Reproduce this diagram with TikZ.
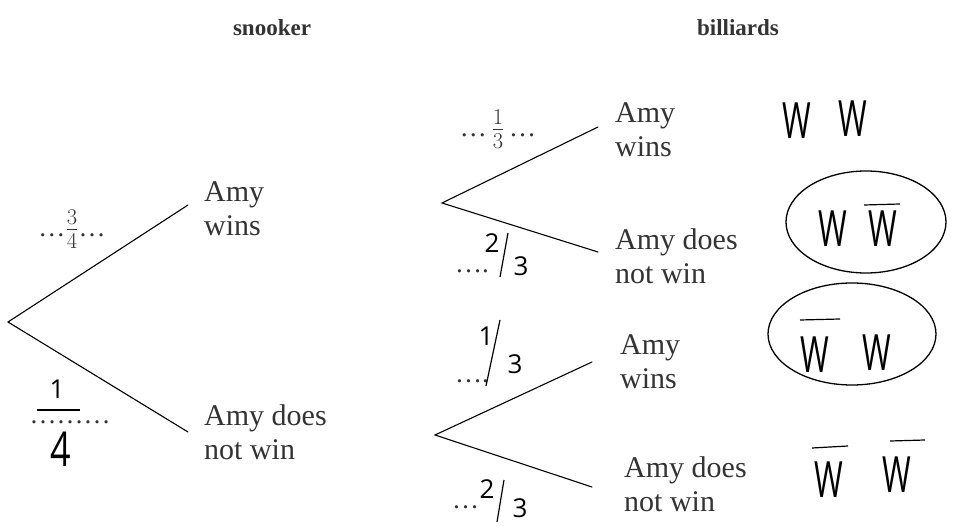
\documentclass[tikz,border=0pt]{standalone}
\usepackage{fontspec}
\setmainfont{Liberation Serif}
\newfontfamily\hand{Open Sans}
\begin{document}
\begin{tikzpicture}[x=1pt,y=-1pt,
  txt/.style={font=\fontsize{30}{34}\selectfont, align=left, anchor=west, inner sep=0pt, text=black!80},
  ttl/.style={font=\fontsize{23}{25}\selectfont\bfseries, inner sep=0pt, text=black!80},
  br/.style={line width=1.1pt, line cap=round},
  hw/.style={font=\fontsize{50}{50}\hand, xscale=0.62, inner sep=0pt},
  hd/.style={font=\fontsize{26}{26}\hand, inner sep=0pt},
  frac/.style={font=\fontsize{27}{30}\selectfont, inner sep=0pt, anchor=base, text=black!80},
  bar/.style={line width=1.2pt},
  ring/.style={line width=1.3pt}]
\useasboundingbox (0,0) rectangle (953,526);
% titles
\node[ttl] (t1) at (272,28) {snooker};
\node[ttl] (t2) at (738,28) {billiards};
% first tree
\coordinate (r1) at (8,322);
\coordinate (a1) at (188,205);
\coordinate (b1) at (188,432);
\draw[br] (a1) -- (r1) -- (b1);
\node[txt] (aw1) at (204,209) {Amy\\wins};
\node[txt] (an1) at (204,432) {Amy does\\not win};
\node[frac] (p1) at (72,237) {\ldots\scalebox{1.3}{$\frac{3}{4}$}\ldots};
% handwritten 1/4
\node[hd] (h1n) at (57,389) {1};
\node[hd, font=\fontsize{48}{48}\hand, xscale=0.75] (h1d) at (61,449) {4};
\draw[bar] (37,410) -- (80,410);
\node[frac] (h1dots) at (70,424) {\ldots\ldots\ldots};
% second tree upper
\coordinate (r2) at (442,203);
\coordinate (a2) at (598,127);
\coordinate (b2) at (598,252);
\draw[br] (a2) -- (r2) -- (b2);
\node[txt] (aw2) at (615,130) {Amy\\wins};
\node[txt] (an2) at (615,256) {Amy does\\not win};
\node[frac] (p2) at (498,137) {\ldots\,\scalebox{1.3}{$\frac{1}{3}$}\,\ldots};
\node[frac, anchor=base west] (d2) at (455,273) {\ldots.};
\node[hd] (h2a) at (492,243) {2};
\draw[bar] (508,233) -- (500,277);
\node[hd] (h2b) at (521,266) {3};
% second tree lower
\coordinate (r3) at (435,435);
\coordinate (a3) at (592,362);
\coordinate (b3) at (592,487);
\draw[br] (a3) -- (r3) -- (b3);
\node[txt] (aw3) at (620,362) {Amy\\wins};
\node[txt] (an3) at (624,484) {Amy does\\not win};
\node[frac, anchor=base west] (d3) at (455,383) {\ldots.};
\node[hd] (h3a) at (486,336) {1};
\draw[bar] (500,320) -- (486,386);
\node[hd] (h3b) at (515,364) {3};
\node[frac, anchor=base west] (d4) at (452,508) {\ldots};
\node[hd] (h4a) at (487,489) {2};
\draw[bar] (504,480) -- (497,522);
\node[hd] (h4b) at (520,508) {3};
% right column
\node[hw] (w1) at (797,121) {W};
\node[hw] (w2) at (853,119) {W};
\draw[ring] (866,222) ellipse [x radius=80, y radius=51];
\node[hw] (w3) at (833,229) {W};
\node[hw] (w4) at (883,229) {W};
\draw[bar] (864,205) -- (900,204);
\draw[ring] (852,334) ellipse [x radius=84, y radius=51];
\node[hw] (w5) at (815,355) {W};
\draw[bar] (800,320) -- (840,319);
\node[hw] (w6) at (877,353) {W};
\node[hw] (w7) at (829,480) {W};
\draw[bar] (812,448) -- (848,446);
\node[hw] (w8) at (897,475) {W};
\draw[bar] (890,441) -- (925,440);
\end{tikzpicture}
\end{document}
